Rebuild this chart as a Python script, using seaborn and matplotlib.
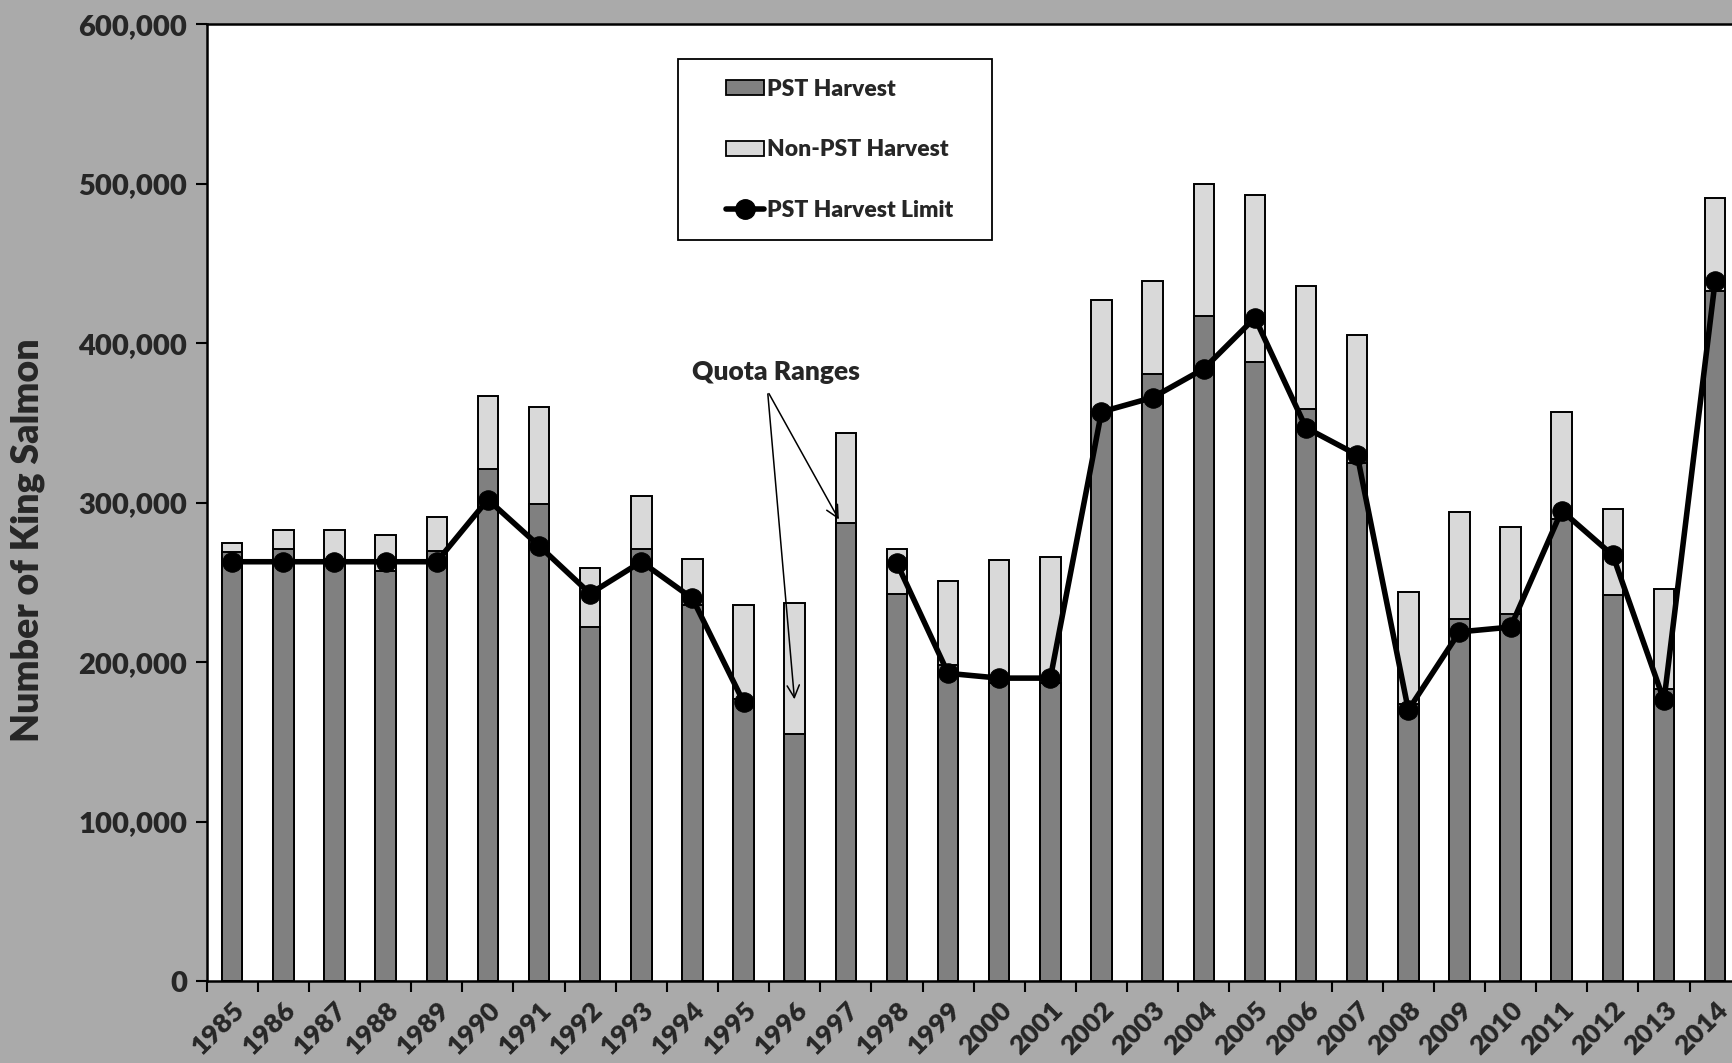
import numpy as np
import pandas as pd
import matplotlib
matplotlib.use('Agg')
import matplotlib.pyplot as plt
import matplotlib.transforms as mtransforms
from matplotlib.patches import Patch, Rectangle
from matplotlib.lines import Line2D
from matplotlib.ticker import FuncFormatter, FixedLocator
import seaborn as sns

# Values (number of fish)
years = ['1985', '1986', '1987', '1988', '1989', '1990', '1991', '1992', '1993', '1994',
         '1995', '1996', '1997', '1998', '1999', '2000', '2001', '2002', '2003', '2004',
         '2005', '2006', '2007', '2008', '2009', '2010', '2011', '2012', '2013', '2014']
pst_harvest = [269000, 271000, 265000, 257000, 270000, 321000, 299000, 222000, 271000, 236000,
               177000, 155000, 287000, 243000, 198000, 187000, 187000, 357000, 381000, 417000,
               388000, 359000, 325000, 174000, 227000, 230000, 290000, 242000, 183000, 433000]
total_harvest = [275000, 283000, 283000, 280000, 291000, 367000, 360000, 259000, 304000, 265000,
                 236000, 237000, 344000, 271000, 251000, 264000, 266000, 427000, 439000, 500000,
                 493000, 436000, 405000, 244000, 294000, 285000, 357000, 296000, 246000, 491000]
harvest_limit = [263000, 263000, 263000, 263000, 263000, 302000, 273000, 243000, 263000, 240000,
                 175000, np.nan, np.nan, 262000, 193000, 190000, 190000, 357000, 366000, 384000,
                 416000, 347000, 330000, 170000, 219000, 222000, 295000, 267000, 176000, 439000]

DARK = '#808080'
LIGHT = '#d9d9d9'
BG = '#aaaaaa'
W = 'heavy'

sns.set_style('white')
plt.rcParams['font.family'] = ['Lato', 'DejaVu Sans']
plt.rcParams['font.weight'] = W

df = pd.DataFrame({'Year': years, 'PST': pst_harvest, 'Total': total_harvest,
                   'Limit': harvest_limit})
df['pos'] = np.arange(len(df))
# quota-range years (1996-1997) break the limit line into two segments
df['seg'] = np.where(df['pos'] < 11, 0, 1)

fig = plt.figure(figsize=(17.32, 10.63), dpi=100, facecolor=BG)
ax = fig.add_axes([0.1193, 0.0771, 0.8807, 0.8999])
ax.set_facecolor('white')

# stacked bars: total (light) underneath, PST (dark) on top
sns.barplot(data=df, x='Year', y='Total', color=LIGHT, saturation=1, width=0.4,
            edgecolor='black', linewidth=1.4, ax=ax, zorder=2)
sns.barplot(data=df, x='Year', y='PST', color=DARK, saturation=1, width=0.4,
            edgecolor='black', linewidth=1.4, ax=ax, zorder=2)

sns.lineplot(data=df.dropna(subset=['Limit']), x='pos', y='Limit', units='seg',
             estimator=None, color='black', linewidth=4, marker='o', markersize=14,
             markeredgecolor='black', ax=ax, zorder=3)

ax.set_xlim(-0.5, 29.33)
ax.set_ylim(0, 600000)
ax.set_yticks(np.arange(0, 600001, 100000))
ax.yaxis.set_major_formatter(FuncFormatter(lambda v, p: f'{int(v):,}'))

ax.set_xticks(np.arange(len(years)))
ax.set_xticklabels(years, rotation=45, ha='right', rotation_mode='anchor',
                   fontsize=19.5, fontweight=W)
shift = mtransforms.ScaledTranslation(0.08, 0, fig.dpi_scale_trans)
for lab in ax.get_xticklabels():
    lab.set_transform(lab.get_transform() + shift)
ax.xaxis.set_minor_locator(FixedLocator(np.arange(-0.5, len(years), 1.0)))
ax.tick_params(axis='x', which='major', length=0, pad=12)
ax.tick_params(axis='x', which='minor', length=8, width=1.5, color='black', direction='out',
               bottom=True)
ax.tick_params(axis='y', length=8, width=1.5, color='black', direction='out', left=True,
               labelsize=21, pad=6)
for lab in ax.get_yticklabels():
    lab.set_fontweight(W)

ax.set_xlabel('')
ax.set_ylabel('Number of King Salmon', fontsize=27, fontweight=W)
ax.yaxis.set_label_coords(-0.106, 0.461)

for side in ['left', 'top', 'bottom']:
    ax.spines[side].set_visible(True)
    ax.spines[side].set_color('black')
    ax.spines[side].set_linewidth(1.8)
ax.spines['right'].set_visible(False)

# annotation
ax.text(10.63, 381800, 'Quota Ranges', ha='center', va='center', fontsize=19,
        fontweight=W)
for head in [(11.0, 175000), (11.89, 288000)]:
    ax.annotate('', xy=head, xytext=(10.47, 370000),
                arrowprops=dict(arrowstyle='->', lw=1.1, color='black', mutation_scale=22))

# legend with a box drawn by hand for the wider side padding
ax.add_patch(Rectangle((0.309, 0.775), 0.206, 0.189, transform=ax.transAxes,
                       facecolor='white', edgecolor='black', linewidth=1.3, zorder=4))
handles = [Patch(facecolor=DARK, edgecolor='black', linewidth=1.3),
           Patch(facecolor=LIGHT, edgecolor='black', linewidth=1.3),
           Line2D([0], [0], color='black', linewidth=4, marker='o', markersize=14)]
leg = ax.legend(handles, ['PST Harvest', 'Non-PST Harvest', 'PST Harvest Limit'],
                loc='upper left', bbox_to_anchor=(0.330, 0.960), frameon=False,
                handlelength=1.65, handleheight=0.6, handletextpad=0.15,
                labelspacing=1.73, borderpad=0.2, prop={'weight': W, 'size': 16.5})
leg.set_zorder(5)

fig.savefig('out.png', dpi=100, facecolor=BG)
